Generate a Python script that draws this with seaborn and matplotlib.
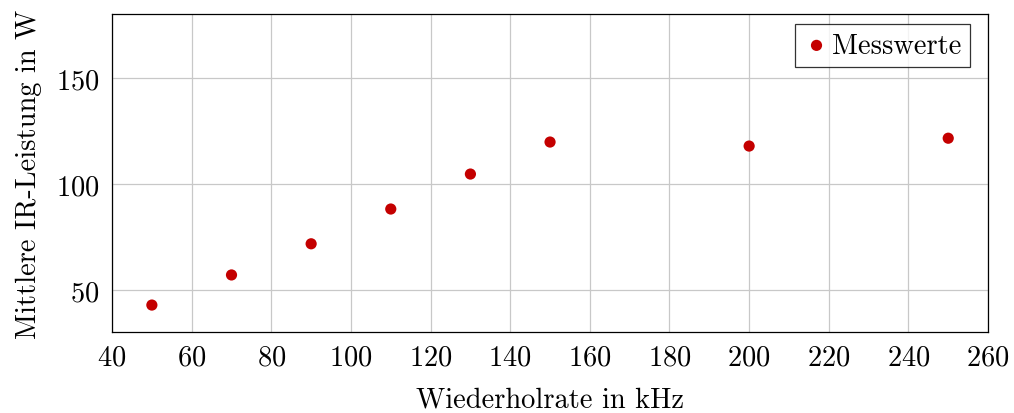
import matplotlib
matplotlib.use("Agg")
import matplotlib.pyplot as plt
import seaborn as sns
import pandas as pd

# Measured mean IR power versus repetition rate
rate_khz = [50, 70, 90, 110, 130, 150, 200, 250]
power_w = [42.9, 57.1, 71.8, 88.2, 104.7, 119.8, 117.9, 121.6]
x_ticks = [40, 60, 80, 100, 120, 140, 160, 180, 200, 220, 240, 260]
y_ticks = [50, 100, 150]

df = pd.DataFrame({"rate": rate_khz, "power": power_w})

sns.set_theme(style="white")
plt.rcParams["font.family"] = ["cmr10", "DejaVu Serif"]
plt.rcParams["axes.formatter.use_mathtext"] = True
plt.rcParams["mathtext.fontset"] = "cm"
plt.rcParams["text.color"] = "black"
plt.rcParams["axes.labelcolor"] = "black"
plt.rcParams["xtick.labelcolor"] = "black"
plt.rcParams["ytick.labelcolor"] = "black"

FS = 20.5

fig = plt.figure(figsize=(10.14, 4.14), dpi=100)
ax = fig.add_axes([0.1105, 0.1957, 0.8639, 0.7681])

sns.scatterplot(data=df, x="rate", y="power", ax=ax, color="#c40000",
                s=65, edgecolor="none", label="Messwerte", zorder=3)

ax.set_xlim(40, 260)
ax.set_ylim(30.2, 180.2)
ax.set_xticks(x_ticks)
ax.set_yticks(y_ticks)
ax.grid(True, color="#c8c8c8", linewidth=0.9)
ax.set_axisbelow(True)
for sp in ax.spines.values():
    sp.set_color("black")
    sp.set_linewidth(0.9)
ax.tick_params(direction="in", length=4, width=0.9, color="#666666",
               labelsize=FS, pad=9, top=False, right=False,
               labelcolor="black")

ax.set_xlabel("Wiederholrate in kHz", fontsize=FS, labelpad=11, color="black")
ax.set_ylabel("Mittlere IR-Leistung in W", fontsize=FS, labelpad=10, color="black")

leg = ax.legend(loc="upper right", bbox_to_anchor=(0.9795, 0.9686),
                fontsize=FS, frameon=True, fancybox=False,
                edgecolor="black", borderpad=0.3, handletextpad=0.1,
                handlelength=0.9, borderaxespad=0.0)
leg.get_frame().set_linewidth(0.9)
for t in leg.get_texts():
    t.set_color("black")

fig.savefig("out.png", dpi=100)
